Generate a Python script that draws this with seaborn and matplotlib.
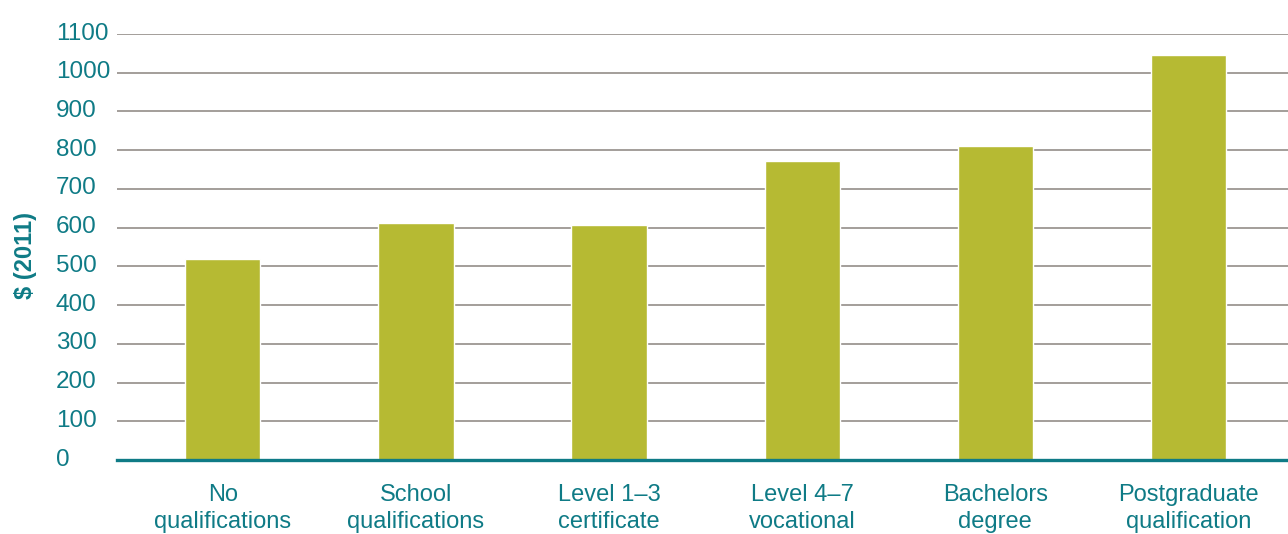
import matplotlib
matplotlib.use("Agg")
import matplotlib.pyplot as plt
import matplotlib.transforms as mtransforms
import pandas as pd
import seaborn as sns

# data
categories = ["No\nqualifications", "School\nqualifications", "Level 1\u20133\ncertificate",
              "Level 4\u20137\nvocational", "Bachelors\ndegree", "Postgraduate\nqualification"]
values = [518, 612, 607, 772, 812, 1047]
yticks = list(range(0, 1101, 100))

TEAL = "#0F7B86"
OLIVE = "#B6BA33"
GRID = "#8A847F"

sns.set_style("white")
plt.rcParams["font.family"] = ["Liberation Sans", "DejaVu Sans"]

df = pd.DataFrame({"category": categories, "value": values})

fig = plt.figure(figsize=(12.88, 5.34), dpi=100)
ax = fig.add_axes([117 / 1288, 74 / 534, 1 - 117 / 1288, 426 / 534])

sns.barplot(data=df, x="category", y="value", color=OLIVE, width=0.39,
            saturation=1, ax=ax, zorder=3)

ax.set_xlim(-0.547, 5.515)
ax.set_ylim(0, 1100)
ax.set_yticks(yticks)
ax.set_yticklabels([str(t) for t in yticks])

# horizontal grid
ax.grid(axis="y", color=GRID, linewidth=1.1, zorder=0)
ax.grid(axis="x", visible=False)
ax.set_axisbelow(True)

for side in ["top", "right", "left"]:
    ax.spines[side].set_visible(False)
ax.spines["bottom"].set_color(TEAL)
ax.spines["bottom"].set_linewidth(2.4)
ax.spines["bottom"].set_zorder(4)

# pads are in points (0.72 pt per pixel at 100 dpi)
ax.tick_params(axis="y", length=0, pad=44, labelsize=17.5, labelcolor=TEAL)
ax.tick_params(axis="x", length=0, pad=17, labelsize=17, labelcolor=TEAL)

shift = mtransforms.ScaledTranslation(0, 3 / 100, fig.dpi_scale_trans)
for lbl in ax.get_yticklabels():
    lbl.set_horizontalalignment("left")
    lbl.set_transform(lbl.get_transform() + shift)
for lbl in ax.get_xticklabels():
    lbl.set_linespacing(1.3)

ax.set_xlabel("")
ax.set_ylabel("$ (2011)", color=TEAL, fontsize=17, fontweight="bold",
              labelpad=0)
ax.yaxis.set_label_coords(-80 / 1171, 0.48)

fig.savefig("out.png", dpi=100)
